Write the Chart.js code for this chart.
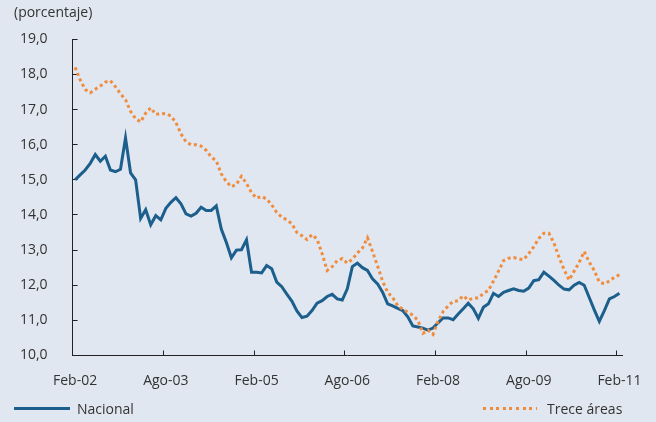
<!DOCTYPE html>
<html>
<head>
<meta charset="utf-8">
<script src="https://cdn.jsdelivr.net/npm/chart.js@4.4.1/dist/chart.umd.min.js"></script>
<style>
  html, body { margin: 0; padding: 0; background: #e1e7f0; }
  #wrap { position: relative; width: 656px; height: 422px; background: #e1e7f0; font-family: 'Open Sans', sans-serif; color: #333; }
  #c { position: absolute; left: 0; top: 0; }
  .sw { position: absolute; height: 3px; }
  .txt { position: absolute; font-size: 14px; line-height: 18px; white-space: nowrap; }
</style>
</head>
<body>
<div id="wrap">
  <canvas id="c" width="656" height="422"></canvas>
  <div class="sw" style="left:14px; top:407px; width:56px; background:#1c5f8d;"></div>
  <div class="txt" style="left:77px; top:400px;">Nacional</div>
  <div class="sw" style="left:483px; top:407px; width:54px; background:repeating-linear-gradient(to right, #f08c3c 0 3px, transparent 3px 6.6px);"></div>
  <div class="txt" style="left:547px; top:400px;">Trece áreas</div>
</div>
<script>
// ---- data ----
const monthNames = ['Ene','Feb','Mar','Abr','May','Jun','Jul','Ago','Sep','Oct','Nov','Dic'];
const startYear = 2002, startMonth = 1;   // Feb-02
const endYear = 2011, endMonth = 1;       // Feb-11
const labelEvery = 18;

const nacional = [
  15.0, 15.14, 15.28, 15.47, 15.72, 15.53, 15.67, 15.28, 15.23, 15.30,
  16.19, 15.2, 15.0, 13.9, 14.15, 13.72, 13.98, 13.86, 14.19, 14.36,
  14.49, 14.32, 14.03, 13.97, 14.05, 14.22, 14.13, 14.13, 14.26, 13.6,
  13.22, 12.78, 13.0, 13.01, 13.29, 12.37, 12.37, 12.35, 12.56, 12.47,
  12.09, 11.96, 11.75, 11.55, 11.27, 11.08, 11.12, 11.28, 11.49, 11.56,
  11.68, 11.74, 11.61, 11.58, 11.90, 12.53, 12.63, 12.50, 12.42, 12.18,
  12.04, 11.80, 11.47, 11.41, 11.34, 11.28, 11.10, 10.84, 10.81, 10.78,
  10.72, 10.78, 10.93, 11.07, 11.07, 11.02, 11.18, 11.33, 11.49, 11.33,
  11.06, 11.37, 11.47, 11.77, 11.68, 11.80, 11.85, 11.90, 11.85, 11.83,
  11.92, 12.13, 12.16, 12.37, 12.26, 12.14, 12.0, 11.89, 11.87, 12.0,
  12.08, 12.0, 11.65, 11.3, 10.97, 11.28, 11.61, 11.68, 11.77
];

const treceAreas = [
  18.2, 17.85, 17.57, 17.48, 17.58, 17.67, 17.78, 17.82, 17.65, 17.45,
  17.28, 16.95, 16.74, 16.65, 16.9, 17.05, 16.86, 16.89, 16.88, 16.82,
  16.63, 16.31, 16.08, 16.0, 16.0, 15.96, 15.84, 15.65, 15.54, 15.17,
  14.95, 14.8, 14.87, 15.1, 14.9, 14.63, 14.48, 14.53, 14.45, 14.29,
  14.07, 13.94, 13.86, 13.75, 13.5, 13.41, 13.3, 13.44, 13.31, 12.9,
  12.42, 12.53, 12.70, 12.76, 12.63, 12.74, 12.92, 13.06, 13.35, 12.96,
  12.55, 12.12, 11.8, 11.65, 11.42, 11.32, 11.23, 11.15, 11.0, 10.63,
  10.72, 10.6, 10.98, 11.25, 11.41, 11.54, 11.56, 11.70, 11.58, 11.63,
  11.64, 11.77, 11.85, 12.12, 12.4, 12.7, 12.77, 12.79, 12.75, 12.73,
  12.9, 13.1, 13.33, 13.48, 13.48, 13.2, 12.8, 12.45, 12.15, 12.4,
  12.65, 12.96, 12.66, 12.42, 12.09, 12.04, 12.12, 12.23, 12.3
];

const yMin = 10, yMax = 19, yStep = 1;

// ---- categories ----
const categories = [];
for (let y = startYear, m = startMonth; y < endYear || (y === endYear && m <= endMonth); ) {
  categories.push(monthNames[m] + '-' + String(y).slice(2));
  m++; if (m > 11) { m = 0; y++; }
}

Chart.defaults.font.family = "'Open Sans', sans-serif";
Chart.defaults.font.size = 14;
Chart.defaults.color = '#333';

new Chart(document.getElementById('c'), {
  type: 'line',
  data: {
    labels: categories,
    datasets: [
      {
        label: 'Trece áreas',
        data: treceAreas,
        borderColor: '#f08c3c',
        borderWidth: 3,
        borderDash: [3, 3],
        borderCapStyle: 'butt',
        pointRadius: 0,
        tension: 0,
        fill: false,
        order: 0
      },
      {
        label: 'Nacional',
        data: nacional,
        borderColor: '#1c5f8d',
        borderWidth: 3,
        pointRadius: 0,
        tension: 0,
        fill: false,
        order: 1
      }
    ]
  },
  options: {
    responsive: false,
    animation: false,
    devicePixelRatio: 1,
    layout: { padding: { left: 14, right: 34, top: 0, bottom: 0 } },
    plugins: {
      legend: { display: false },
      tooltip: { enabled: false },
      title: {
        display: true,
        text: '(porcentaje)',
        align: 'start',
        color: '#333',
        font: { size: 14, weight: 'normal' },
        padding: { top: 5, bottom: 17.5 }
      }
    },
    scales: {
      x: {
        type: 'category',
        offset: true,
        grid: {
          offset: true,
          drawOnChartArea: false,
          tickLength: -5,
          tickWidth: 1,
          tickColor: (ctx) => (ctx.index % labelEvery === 0 ? '#222' : 'rgba(0,0,0,0)')
        },
        border: { color: '#222', width: 1 },
        ticks: {
          autoSkip: false,
          maxRotation: 0,
          minRotation: 0,
          padding: 22,
          color: '#333',
          callback: function (v, i) { return i % labelEvery === 0 ? this.getLabelForValue(v) : ''; }
        },
        afterFit: (s) => { s.height = 66.5; s.paddingLeft = 0; s.paddingRight = 0; }
      },
      y: {
        min: yMin,
        max: yMax,
        grid: {
          drawOnChartArea: false,
          tickLength: -5,
          tickWidth: 1,
          tickColor: '#222'
        },
        border: { color: '#222', width: 1 },
        ticks: {
          stepSize: yStep,
          padding: 30,
          color: '#333',
          callback: (v) => v.toFixed(1).replace('.', ',')
        },
        afterFit: (s) => { s.width = 58.6; }
      }
    }
  }
});
</script>
</body>
</html>
